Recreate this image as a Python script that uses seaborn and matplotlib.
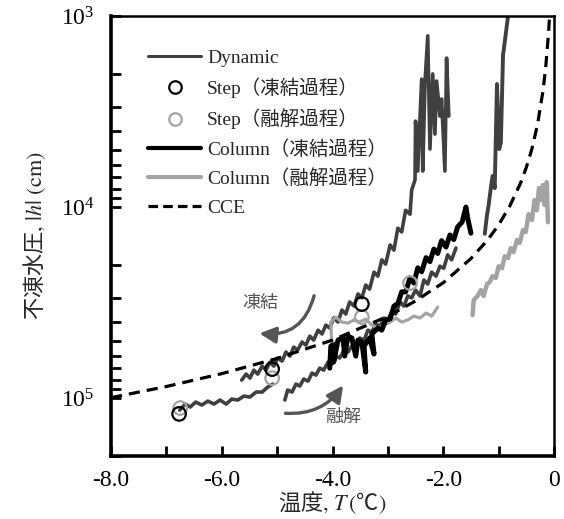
import numpy as np
import pandas as pd
import matplotlib
matplotlib.use("Agg")
import matplotlib.pyplot as plt
import seaborn as sns
from matplotlib.lines import Line2D
from matplotlib.patches import FancyArrowPatch
from matplotlib.ticker import MultipleLocator, FixedLocator, FixedFormatter, LogLocator, NullFormatter

# ---------------- data ----------------
# Dynamic, freezing branch
dyn_f_T = [-5.64, -5.56, -5.49, -5.42, -5.35, -5.27, -5.20, -5.13, -5.06, -4.99, -4.91, -4.84, -4.77, -4.70,
           -4.63, -4.55, -4.48, -4.41, -4.34, -4.26, -4.19, -4.12, -4.05, -3.98, -3.90, -3.83, -3.76, -3.69,
           -3.61, -3.54, -3.47, -3.40, -3.33, -3.25, -3.18, -3.11, -3.04, -2.96, -2.89, -2.82, -2.75, -2.68,
           -2.60, -2.57, -2.51, -2.50, -2.46, -2.39, -2.37, -2.33, -2.28, -2.24, -2.19, -2.15, -2.12, -2.06,
           -2.03, -1.97, -1.94, -1.90]
dyn_f_h = [80500, 74900, 78600, 71400, 74900, 68000, 71400, 64800, 68000, 61700, 64000, 57400, 60300, 54100,
           56100, 50900, 52800, 47400, 49700, 44100, 46200, 41500, 43000, 38100, 40000, 34600, 36300, 31400,
           33000, 28500, 29900, 25600, 26900, 21900, 23000, 18900, 19900, 15800, 16800, 12900, 13500, 10400,
           10900, 8150, 7220, 3550, 6480, 2140, 6480, 2240, 1270, 4970, 2010, 4150, 2190, 3340, 2720, 6480,
           1660, 3340]
# Dynamic, first thawing segment (low temperature)
dyn_t1_T = [-6.76, -6.66, -6.57, -6.47, -6.36, -6.25, -6.14, -6.03, -5.92, -5.82, -5.71, -5.60, -5.49,
            -5.38, -5.27, -5.17, -5.08]
dyn_t1_h = [115600, 107500, 111400, 104900, 108800, 103700, 107500, 102400, 107500, 101200, 102400, 97600,
            98800, 93000, 93000, 87600, 84500]
# Dynamic, second thawing segment
dyn_t2_T = [-4.86, -4.81, -4.73, -4.66, -4.59, -4.52, -4.44, -4.37, -4.30, -4.23, -4.16, -4.08, -4.01, -3.94,
            -3.87, -3.79, -3.72, -3.65, -3.58, -3.51, -3.43, -3.36, -3.29, -3.22, -3.14, -3.07, -3.00, -2.93,
            -2.86, -2.78, -2.71, -2.64, -2.57, -2.50, -2.42, -2.35, -2.28, -2.21, -2.13, -2.06, -1.99, -1.92,
            -1.85, -1.77]
dyn_t2_h = [102400, 90800, 93000, 84500, 86500, 79500, 81500, 74000, 75800, 69700, 71400, 64800, 66400, 60300,
            61700, 56100, 57400, 53400, 54700, 48500, 49700, 44100, 45100, 41000, 42000, 38100, 39000, 35500,
            36300, 31400, 33000, 29200, 29900, 27200, 29200, 24100, 25300, 21900, 23000, 20400, 20900, 17800,
            18900, 16400]
# Dynamic, segment near -1 C
dyn_t3_T = [-1.25, -1.21, -1.18, -1.16, -1.11, -1.07, -1.03, -0.99, -0.96, -0.92, -0.91, -0.83, -0.80]
dyn_t3_h = [13800, 11000, 9760, 8760, 6880, 7960, 2270, 4970, 4620, 1580, 1525, 1000, 824]

# Step points
step_f_T = [-6.77, -5.09, -3.47]
step_f_h = [121000, 70500, 32200]
step_t_T = [-6.75, -5.09, -3.47, -2.60]
step_t_h = [112800, 78600, 37700, 25000]

# Column, freezing
col_f_T = [-4.05, -4.03, -3.94, -3.98, -3.90, -3.81, -3.78, -3.72, -3.65, -3.58, -3.54, -3.47, -3.40, -3.43,
           -3.33, -3.25, -3.29, -3.18, -3.11, -3.04, -2.96, -2.89, -2.82, -2.75, -2.68, -2.60, -2.53, -2.46,
           -2.39, -2.31, -2.24, -2.17, -2.10, -2.03, -1.95, -1.88, -1.81, -1.74, -1.66, -1.59, -1.56, -1.50]
col_f_h = [69700, 53400, 52200, 64800, 49700, 48500, 60300, 47400, 48500, 60300, 49700, 50900, 73100, 53400,
           48500, 58800, 46200, 43000, 44100, 39000, 38500, 33000, 32000, 27800, 27800, 23500, 25000, 20800,
           21800, 18400, 19300, 16600, 17500, 15000, 16200, 14000, 14800, 12700, 12000, 10000, 11400, 13700]
# Column, thawing (two branches)
col_t1_T = [-4.01, -4.03, -3.94, -3.83, -3.72, -3.61, -3.51, -3.40, -3.29, -3.18, -3.07, -2.96, -2.86, -2.75,
            -2.64, -2.53, -2.42, -2.31, -2.21, -2.10]
col_t1_h = [56100, 40000, 37700, 40000, 40500, 39000, 40000, 38600, 41500, 43000, 41500, 40000, 38100, 40000,
            39000, 37200, 38100, 35900, 37200, 33400]
col_t2_T = [-1.47, -1.45, -1.38, -1.32, -1.27, -1.21, -1.16, -1.11, -1.05, -1.00, -0.94, -0.89, -0.83, -0.78,
            -0.73, -0.67, -0.62, -0.56, -0.51, -0.46, -0.40, -0.35, -0.31, -0.27, -0.24, -0.20, -0.17, -0.13,
            -0.11]
col_t2_h = [36800, 30700, 29200, 27200, 29200, 25300, 24700, 23000, 23500, 20400, 20900, 18100, 18500, 16400,
            17200, 14900, 15400, 13200, 13500, 10900, 11700, 9190, 10400, 7960, 9190, 7670, 9760, 7400, 12000]

# CCE curve
cce_T = [-8.0, -7.0, -6.0, -5.0, -4.0, -3.0, -2.5, -2.0, -1.5, -1.2, -1.0, -0.8, -0.6, -0.5, -0.4, -0.3,
         -0.2, -0.15, -0.1, -0.08]
cce_h = [99500, 87000, 74500, 62000, 49700, 37300, 31000, 24900, 18600, 14900, 12400, 9900, 7450, 6200, 4970,
         3730, 2480, 1860, 1240, 1000]

xtick_values = [-8, -6, -4, -2, 0]
xtick_labels = ["-8.0", "-6.0", "-4.0", "-2.0", "0"]
ytick_values = [1e3, 1e4, 1e5]
ytick_labels = [r"$\mathdefault{10^3}$", r"$\mathdefault{10^4}$", r"$\mathdefault{10^5}$"]
legend_labels = ["Dynamic", "Step（凍結過程）", "Step（融解過程）", "Column（凍結過程）", "Column（融解過程）", "CCE"]
xlabel_text = r"温度$\mathrm{,}\ T\,\mathrm{(}$℃$\mathrm{)}$"
ylabel_text = r"不凍水圧$\mathrm{,}\ \left|h\right|\ \mathrm{(cm)}$"

# ---------------- style ----------------
sns.set_style("ticks")
plt.rcParams["font.family"] = ["Liberation Serif", "Noto Sans CJK JP"]
plt.rcParams["mathtext.fontset"] = "stix"
plt.rcParams["axes.unicode_minus"] = False

C_DYN = "#404040"
C_BLACK = "#000000"
C_GREY = "#a3a3a3"
C_ARROW = "#555555"

fig = plt.figure(figsize=(5.64, 5.19), dpi=100)
ax = fig.add_axes([111 / 564, 1 - 456 / 519, 443 / 564, 440 / 519])
ax.set_yscale("log")


def line(T, h, color, lw, z):
    df = pd.DataFrame({"T": T, "h": h})
    sns.lineplot(data=df, x="T", y="h", sort=False, estimator=None, ax=ax, color=color,
                 linewidth=lw, zorder=z, legend=False)


line(dyn_f_T, dyn_f_h, C_DYN, 2.6, 2)
line(dyn_t1_T, dyn_t1_h, C_DYN, 2.6, 2)
line(dyn_t2_T, dyn_t2_h, C_DYN, 2.6, 2)
line(dyn_t3_T, dyn_t3_h, C_DYN, 2.8, 2)
line(col_t1_T, col_t1_h, C_GREY, 2.3, 3)
line(col_t2_T, col_t2_h, C_GREY, 3.2, 3)
line(col_f_T, col_f_h, C_BLACK, 3.6, 4)

df_cce = pd.DataFrame({"T": cce_T, "h": cce_h})
sns.lineplot(data=df_cce, x="T", y="h", sort=False, estimator=None, ax=ax, color="black",
             linewidth=2.3, zorder=5, legend=False)
ax.lines[-1].set_linestyle((0, (3.5, 2.2)))

sns.scatterplot(x=step_t_T, y=step_t_h, ax=ax, marker="o", s=95, facecolors="none",
                edgecolor=C_GREY, linewidth=1.6, zorder=6, legend=False)
sns.scatterplot(x=step_f_T, y=step_f_h, ax=ax, marker="o", s=95, facecolors="none",
                edgecolor="black", linewidth=1.6, zorder=7, legend=False)

# axes
ax.set_xlim(-8, 0)
ax.set_ylim(2.01e5, 1e3)
ax.xaxis.set_major_locator(FixedLocator(xtick_values))
ax.xaxis.set_major_formatter(FixedFormatter(xtick_labels))
ax.xaxis.set_minor_locator(MultipleLocator(1))
ax.yaxis.set_major_locator(FixedLocator(ytick_values))
ax.yaxis.set_major_formatter(FixedFormatter(ytick_labels))
ax.yaxis.set_minor_locator(LogLocator(base=10, subs=np.arange(2, 10)))
ax.yaxis.set_minor_formatter(NullFormatter())
ax.tick_params(which="both", direction="in", width=2.0, length=7.5, colors="black")
ax.tick_params(axis="x", which="major", labelsize=17, pad=10)
ax.tick_params(axis="y", which="major", labelsize=17, pad=12)
ax.tick_params(top=False, right=False, which="both")
for s in ["left", "bottom"]:
    ax.spines[s].set_linewidth(2.6)
for s in ["top", "right"]:
    ax.spines[s].set_linewidth(1.8)
for s in ax.spines.values():
    s.set_color("black")

ax.set_xlabel(xlabel_text, fontsize=16, labelpad=-1, family="Noto Sans CJK JP")
ax.set_ylabel(ylabel_text, fontsize=16, labelpad=9, family="Noto Sans CJK JP")

# legend
handles = [
    Line2D([], [], color=C_DYN, lw=2.2),
    Line2D([], [], color="black", marker="o", ls="", ms=9, mfc="none", mew=1.6),
    Line2D([], [], color=C_GREY, marker="o", ls="", ms=9, mfc="none", mew=1.6),
    Line2D([], [], color="black", lw=3.0),
    Line2D([], [], color=C_GREY, lw=3.0),
    Line2D([], [], color="black", lw=2.3, ls=(0, (3.0, 1.6))),
]
leg = ax.legend(handles, legend_labels, loc="upper left", bbox_to_anchor=(0.083, 0.925),
                frameon=False, fontsize=14, handlelength=2.75, handletextpad=0.3,
                labelspacing=0.55, borderaxespad=0, borderpad=0)

# annotations
ax.text(-5.3, 10 ** (3 + (303 - 16) / 191), "凍結", fontsize=13, color=C_ARROW,
        ha="center", va="center", family=["Noto Sans CJK JP"])
ax.text(-3.8, 10 ** (3 + (417 - 16) / 191), "融解", fontsize=13, color=C_ARROW,
        ha="center", va="center", family=["Noto Sans CJK JP"])
a1 = FancyArrowPatch((-4.32, 28200), (-5.37, 45700), connectionstyle="arc3,rad=-0.45",
                     arrowstyle="-|>,head_length=0.7,head_width=0.35", mutation_scale=14,
                     color=C_ARROW, lw=2.4, zorder=8)
a2 = FancyArrowPatch((-4.90, 119800), (-3.78, 83500), connectionstyle="arc3,rad=0.3",
                     arrowstyle="-|>,head_length=0.7,head_width=0.35", mutation_scale=14,
                     color=C_ARROW, lw=2.4, zorder=8)
ax.add_patch(a1)
ax.add_patch(a2)

fig.savefig("out.png", dpi=100)
